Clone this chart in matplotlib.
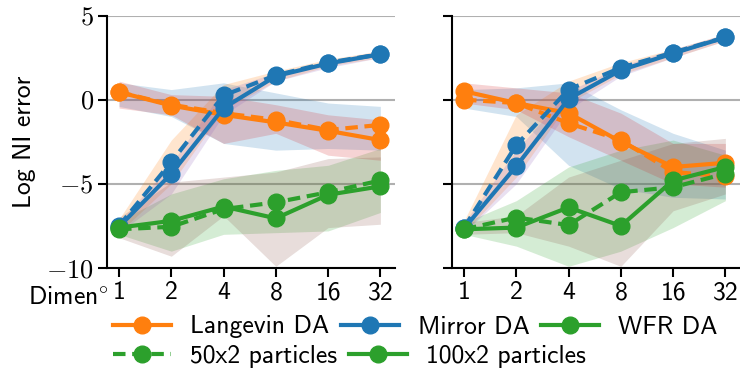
import matplotlib
matplotlib.use("Agg")
import matplotlib.pyplot as plt
from matplotlib.lines import Line2D
import numpy as np

plt.rcParams['font.family'] = ['cmss10', 'DejaVu Sans']
plt.rcParams['mathtext.fontset'] = 'cm'
plt.rcParams['axes.unicode_minus'] = False

dims = [1, 2, 4, 8, 16, 32]
dim_labels = ['1', '2', '4', '8', '16', '32']
yticks = [-10, -5, 0, 5]
ytick_labels = ['$-10$', '$-5$', '$0$', '$5$']

# ---- Panel A (left) ----
a_lang_50 = [0.45, -0.3, -0.8, -1.2, -1.8, -1.5]
a_lang_100 = [0.45, -0.35, -0.9, -1.35, -1.85, -2.4]
a_mirror_50 = [-7.5, -3.7, 0.25, 1.45, 2.2, 2.7]
a_mirror_100 = [-7.55, -4.4, -0.5, 1.4, 2.15, 2.7]
a_wfr_50 = [-7.7, -7.55, -6.5, -6.1, -5.5, -4.8]
a_wfr_100 = [-7.6, -7.2, -6.35, -7.05, -5.65, -5.15]

a_lang_50_lo = [-0.4, -1.0, -2.6, -3.0, -2.9, -3.0]
a_lang_50_hi = [1.0, 0.6, 1.0, 0.4, -0.2, -0.4]
a_lang_100_lo = [-0.5, -0.9, -2.6, -2.0, -3.3, -3.6]
a_lang_100_hi = [1.1, 0.3, 0.2, -0.3, -0.9, -1.2]
a_mirror_50_lo = [-7.9, -5.0, -0.6, 1.1, 2.0, 2.5]
a_mirror_50_hi = [-7.1, -2.4, 0.9, 1.7, 2.4, 2.9]
a_mirror_100_lo = [-7.9, -5.6, -0.9, 1.1, 1.9, 2.5]
a_mirror_100_hi = [-7.3, -3.8, 0.6, 1.6, 2.3, 2.9]
a_wfr_50_lo = [-8.0, -9.0, -8.0, -7.9, -7.8, -6.7]
a_wfr_50_hi = [-7.2, -5.6, -4.7, -4.2, -3.9, -2.9]
a_wfr_100_lo = [-8.2, -9.3, -6.9, -9.9, -7.6, -7.4]
a_wfr_100_hi = [-7.0, -4.9, -4.6, -4.3, -3.5, -3.4]

# ---- Panel B (right) ----
b_lang_50 = [0.0, -0.2, -1.4, -2.4, -4.3, -4.55]
b_lang_100 = [0.5, -0.2, -0.8, -2.5, -4.0, -3.75]
b_mirror_50 = [-7.6, -2.7, 0.6, 1.9, 2.8, 3.7]
b_mirror_100 = [-7.65, -3.95, 0.05, 1.75, 2.75, 3.7]
b_wfr_50 = [-7.7, -7.0, -7.45, -5.5, -5.2, -4.4]
b_wfr_100 = [-7.7, -7.6, -6.4, -7.5, -4.8, -4.0]

b_lang_50_lo = [-0.5, -1.0, -3.9, -5.3, -5.8, -5.9]
b_lang_50_hi = [0.6, 0.7, 1.0, -0.6, -2.0, -3.0]
b_lang_100_lo = [-0.2, -0.6, -2.2, -3.6, -5.0, -5.2]
b_lang_100_hi = [1.0, 0.7, 0.4, -0.8, -2.6, -2.6]
b_mirror_50_lo = [-7.9, -4.6, -0.2, 1.5, 2.5, 3.5]
b_mirror_50_hi = [-7.2, -0.9, 1.1, 2.2, 3.0, 3.9]
b_mirror_100_lo = [-7.9, -5.0, -0.6, 1.4, 2.5, 3.5]
b_mirror_100_hi = [-7.3, -3.0, 0.5, 2.0, 3.0, 3.9]
b_wfr_50_lo = [-8.0, -8.7, -9.9, -9.0, -7.6, -6.0]
b_wfr_50_hi = [-7.3, -6.0, -4.0, -3.0, -2.4, -3.3]
b_wfr_100_lo = [-8.0, -7.9, -8.7, -9.9, -6.6, -5.6]
b_wfr_100_hi = [-7.3, -6.9, -4.6, -3.6, -2.6, -2.3]

C0, C1, C2, C3, C4, C5 = ['#1f77b4', '#ff7f0e', '#2ca02c', '#d62728', '#9467bd', '#8c564b']

panels = [
    dict(lines=[(a_lang_50, a_lang_100, C1), (a_mirror_50, a_mirror_100, C0), (a_wfr_50, a_wfr_100, C2)],
         bands=[(a_lang_50_lo, a_lang_50_hi, C0), (a_mirror_50_lo, a_mirror_50_hi, C1),
                (a_wfr_50_lo, a_wfr_50_hi, C2), (a_lang_100_lo, a_lang_100_hi, C3),
                (a_mirror_100_lo, a_mirror_100_hi, C4), (a_wfr_100_lo, a_wfr_100_hi, C5)]),
    dict(lines=[(b_lang_50, b_lang_100, C1), (b_mirror_50, b_mirror_100, C0), (b_wfr_50, b_wfr_100, C2)],
         bands=[(b_lang_50_lo, b_lang_50_hi, C0), (b_mirror_50_lo, b_mirror_50_hi, C1),
                (b_wfr_50_lo, b_wfr_50_hi, C2), (b_lang_100_lo, b_lang_100_hi, C3),
                (b_mirror_100_lo, b_mirror_100_hi, C4), (b_wfr_100_lo, b_wfr_100_hi, C5)]),
]

fig = plt.figure(figsize=(7.4, 3.69), dpi=100)
axes = [fig.add_axes([107/740, 1-268/369, 288/740, 252.5/369]),
        fig.add_axes([452/740, 1-268/369, 288/740, 252.5/369])]

FS = 18.5
lw = 3.0
ms = 12
DASH = (0, (3, 1.6))
for i, (ax, p) in enumerate(zip(axes, panels)):
    ax.set_xscale('log', base=2)
    for lo, hi, c in p['bands']:
        ax.fill_between(dims, lo, hi, color=c, alpha=0.2, linewidth=0)
    for d50, d100, c in p['lines']:
        ax.plot(dims, d50, color=c, lw=lw, ls=DASH, marker='o', ms=ms, zorder=3)
        ax.plot(dims, d100, color=c, lw=lw, ls='-', marker='o', ms=ms, zorder=3)
    ax.set_xlim(2 ** -0.23, 2 ** 5.28)
    ax.set_ylim(-10, 5)
    ax.set_xticks(dims)
    ax.set_xticklabels(dim_labels, fontsize=FS)
    ax.xaxis.set_minor_locator(matplotlib.ticker.NullLocator())
    ax.set_yticks(yticks)
    if i == 0:
        ax.set_yticklabels(ytick_labels, fontsize=FS + 0.5)
        ax.set_ylabel('Log NI error', fontsize=FS, labelpad=7)
    else:
        ax.set_yticklabels([])
    ax.grid(axis='y', color='#b0b0b0', lw=1.5)
    ax.set_axisbelow(True)
    for s in ['top', 'right']:
        ax.spines[s].set_visible(False)
    for s in ['left', 'bottom']:
        ax.spines[s].set_linewidth(1.5)
    ax.tick_params(width=1.5, length=6.5, pad=3)

fig.text(28/740, 1-297/369, r'Dimen$^{\circ}$', fontsize=FS, va='center', ha='left')

row1_handles = [
    Line2D([], [], color=C1, lw=lw, marker='o', ms=ms),
    Line2D([], [], color=C0, lw=lw, marker='o', ms=ms),
    Line2D([], [], color=C2, lw=lw, marker='o', ms=ms),
]
row1_labels = ['Langevin DA', 'Mirror DA', 'WFR DA']
row2_handles = [
    Line2D([], [], color=C2, lw=lw, ls=DASH, marker='o', ms=ms),
    Line2D([], [], color=C2, lw=lw, marker='o', ms=ms),
]
row2_labels = ['50x2 particles', '100x2 particles']

common = dict(frameon=False, fontsize=FS, handlelength=2.25, columnspacing=0.45,
              handletextpad=0.75, borderpad=0, borderaxespad=0)
leg1 = fig.legend(row1_handles, row1_labels, ncol=3, loc='center left',
                  bbox_to_anchor=(113/740, 1-327/369), **common)
leg2 = fig.legend(row2_handles, row2_labels, ncol=2, loc='center left',
                  bbox_to_anchor=(113/740, 1-356/369), **common)

fig.savefig('out.png', dpi=100)
